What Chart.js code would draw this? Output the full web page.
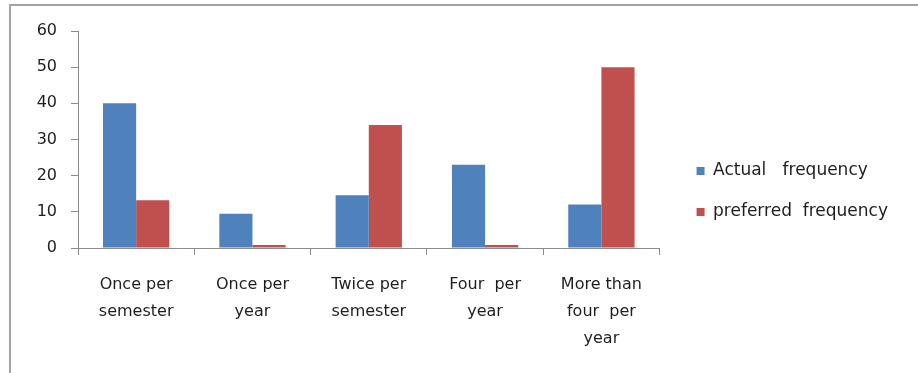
<!DOCTYPE html>
<html>
<head>
<meta charset="utf-8">
<script src="https://cdn.jsdelivr.net/npm/chart.js@4"></script>
<style>
  html, body { margin: 0; padding: 0; background: #ffffff; overflow: hidden; }
  #frame {
    position: absolute; left: 9px; top: 4px; width: 1000px; height: 1000px;
    border-left: 2px solid #a3a3a3; border-top: 2px solid #a3a3a3;
  }
  #wrap { position: absolute; left: 0; top: 0; width: 918px; height: 373px; }
</style>
</head>
<body>
<div id="frame"></div>
<div id="wrap"><canvas id="chart" width="918" height="373"></canvas></div>
<script>
// Meeting frequency survey: how often it happens vs how often people would like it
const categories = [
  ['Once per', 'semester'],
  ['Once per', 'year'],
  ['Twice per', 'semester'],
  ['Four  per', 'year'],
  ['More than', 'four  per', 'year']
];
const actualFrequency = [40, 9.5, 14.6, 23, 12];
const preferredFrequency = [13.2, 0.8, 34, 0.8, 50];
const seriesNames = ['Actual   frequency', 'preferred  frequency'];
const yTicks = { min: 0, max: 60, step: 10 };

const axisGrey = '#8c8c8c';
const textColor = '#1e1e1e';
const fontFamily = '"DejaVu Sans", "Liberation Sans", sans-serif';

new Chart(document.getElementById('chart'), {
  type: 'bar',
  data: {
    labels: categories,
    datasets: [
      {
        label: seriesNames[0],
        data: actualFrequency,
        backgroundColor: '#4f81bd',
        borderWidth: 0,
        categoryPercentage: 0.57,
        barPercentage: 1.0
      },
      {
        label: seriesNames[1],
        data: preferredFrequency,
        backgroundColor: '#c0504d',
        borderWidth: 0,
        categoryPercentage: 0.57,
        barPercentage: 1.0
      }
    ]
  },
  options: {
    responsive: false,
    animation: false,
    devicePixelRatio: 1,
    layout: { padding: { top: 31, bottom: 21, left: 0, right: 20 } },
    scales: {
      x: {
        grid: {
          display: true,
          drawOnChartArea: false,
          drawTicks: true,
          tickLength: 7,
          color: axisGrey,
          offset: true
        },
        border: { display: true, color: axisGrey, width: 1 },
        ticks: {
          color: textColor,
          padding: 16,
          maxRotation: 0,
          autoSkip: false,
          font: { family: fontFamily, size: 16, lineHeight: 1.7 }
        },
        afterFit(scale) { scale.height = 104; }
      },
      y: {
        position: 'left',
        min: yTicks.min,
        max: yTicks.max,
        grid: {
          display: true,
          drawOnChartArea: false,
          drawTicks: true,
          tickLength: 7,
          color: axisGrey
        },
        border: { display: true, color: axisGrey, width: 1 },
        ticks: {
          stepSize: yTicks.step,
          color: textColor,
          padding: 14,
          font: { family: fontFamily, size: 16 }
        },
        afterFit(scale) { scale.width = 78; }
      },
      // empty spacer axis that keeps the legend away from the plot
      gap: {
        position: 'right',
        display: true,
        grid: { display: false },
        border: { display: false },
        ticks: { display: false },
        afterFit(scale) { scale.width = 13; }
      }
    },
    plugins: {
      tooltip: { enabled: false },
      legend: {
        position: 'right',
        align: 'center',
        maxWidth: 400,
        labels: {
          boxWidth: 8,
          boxHeight: 8,
          padding: 24,
          color: textColor,
          font: { family: fontFamily, size: 17 }
        }
      }
    }
  }
});
</script>
</body>
</html>
